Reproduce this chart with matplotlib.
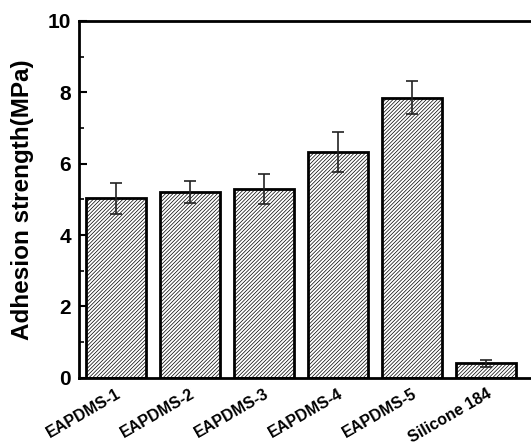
import numpy as np
import matplotlib
matplotlib.use("Agg")
import matplotlib.pyplot as plt

# values
samples = ["EAPDMS-1", "EAPDMS-2", "EAPDMS-3", "EAPDMS-4", "EAPDMS-5", "Silicone 184"]
strength = [5.03, 5.20, 5.30, 6.33, 7.85, 0.41]
err = [0.43, 0.30, 0.42, 0.56, 0.46, 0.10]

plt.rcParams["font.family"] = ["Liberation Sans", "DejaVu Sans"]
plt.rcParams["font.weight"] = "bold"
plt.rcParams["hatch.linewidth"] = 0.5
plt.rcParams["hatch.color"] = "#555555"

fig = plt.figure(figsize=(5.31, 4.43), dpi=100)
ax = fig.add_axes([0.149, 0.147, 0.864, 0.806])

x = np.arange(len(samples))
ax.bar(x, strength, width=0.81, color="white", edgecolor="black", linewidth=2.0,
       hatch="/////////", zorder=2)
ax.errorbar(x, strength, yerr=err, fmt="none", ecolor="#222222", elinewidth=1.2,
            capsize=4, capthick=1.2, zorder=3)

ax.set_xlim(-0.5, 5.7)
ax.set_ylim(0, 10)
ax.set_yticks([0, 2, 4, 6, 8, 10])
ax.set_yticks([1, 3, 5, 7, 9], minor=True)
ax.tick_params(axis="y", which="major", direction="in", length=6, width=1.5,
               labelsize=15, pad=6)
ax.tick_params(axis="y", which="minor", direction="in", length=3.5, width=1.2)
ax.tick_params(axis="x", length=0, pad=6)
ax.set_xticks(x)
ax.set_xticklabels(samples, rotation=30, ha="right", rotation_mode="anchor",
                   fontsize=11.5, fontweight="bold")
ax.set_ylabel("Adhesion strength(MPa)", fontsize=17.5, fontweight="bold", labelpad=10)
for s in ax.spines.values():
    s.set_linewidth(2.0)

fig.savefig("out.png", dpi=100)
